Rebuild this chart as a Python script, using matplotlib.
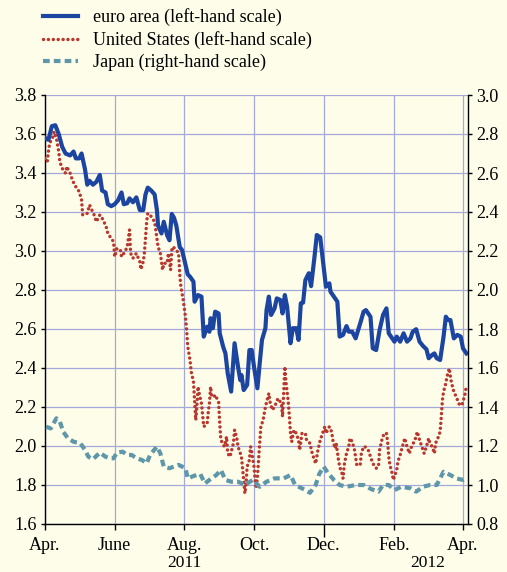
import matplotlib
matplotlib.use("Agg")
import matplotlib.pyplot as plt
import matplotlib.dates as mdates
import numpy as np
import pandas as pd

plt.rcParams['font.family'] = ['Liberation Serif', 'DejaVu Serif']

START = pd.Timestamp('2011-04-01')

# euro area (left-hand scale): days since 1 Apr 2011, value
ea_days = [0, 3, 6, 9, 12, 15, 18, 22, 25, 27, 30, 32, 35, 37, 39, 42, 45, 48, 50, 53,
           55, 58, 61, 64, 67, 69, 72, 74, 77, 80, 83, 86, 88, 90, 93, 96, 98, 99, 102, 104,
           107, 109, 111, 113, 115, 118, 120, 123, 125, 127, 130, 131, 134, 137, 139, 142, 144, 145, 147, 149,
           152, 153, 156, 158, 160, 163, 166, 169, 171, 172, 174, 177, 179, 181, 183, 186, 188, 190, 193, 194,
           196, 198, 201, 203, 206, 208, 210, 212, 215, 217, 220, 222, 224, 226, 228, 231, 233, 236, 238, 241,
           244, 246, 249, 250, 253, 256, 258, 261, 264, 266, 269, 272, 276, 279, 281, 285, 287, 290, 293, 296,
           299, 301, 304, 306, 308, 311, 314, 317, 320, 322, 325, 328, 331, 334, 336, 339, 341, 343, 346, 349,
           351, 353, 355, 358, 361, 364, 366, 369]
ea_vals = [3.58, 3.57, 3.64, 3.645, 3.60, 3.535, 3.50, 3.49, 3.51, 3.475, 3.475, 3.50, 3.42, 3.34, 3.36, 3.34, 3.355, 3.39, 3.31, 3.30,
           3.24, 3.23, 3.24, 3.26, 3.30, 3.24, 3.245, 3.27, 3.25, 3.275, 3.21, 3.21, 3.29, 3.325, 3.31, 3.29, 3.21, 3.13, 3.09, 3.15,
           3.08, 3.055, 3.19, 3.17, 3.13, 3.02, 3.005, 2.93, 2.88, 2.868, 2.843, 2.74, 2.774, 2.766, 2.561, 2.612, 2.586, 2.655, 2.604, 2.689,
           2.68, 2.578, 2.509, 2.475, 2.372, 2.279, 2.527, 2.407, 2.338, 2.364, 2.287, 2.313, 2.492, 2.492, 2.407, 2.296, 2.424, 2.544, 2.604, 2.697,
           2.766, 2.672, 2.706, 2.757, 2.749, 2.68, 2.774, 2.714, 2.527, 2.604, 2.604, 2.544, 2.732, 2.735, 2.851, 2.886, 2.82, 2.971, 3.082, 3.07,
           2.92, 2.817, 2.834, 2.791, 2.766, 2.74, 2.561, 2.57, 2.615, 2.586, 2.586, 2.552, 2.629, 2.689, 2.697, 2.663, 2.501, 2.492, 2.595, 2.672,
           2.706, 2.578, 2.552, 2.535, 2.561, 2.535, 2.578, 2.535, 2.552, 2.586, 2.599, 2.535, 2.513, 2.496, 2.45, 2.467, 2.475, 2.45, 2.441, 2.561,
           2.663, 2.646, 2.646, 2.552, 2.57, 2.561, 2.501, 2.475]

# United States (left-hand scale)
us_days = [0, 2, 3, 4, 7, 8, 10, 11, 12, 13, 15, 18, 19, 22, 24, 26, 30, 32, 33, 37,
           39, 41, 43, 45, 48, 51, 54, 55, 60, 61, 63, 66, 67, 70, 72, 73, 74, 75, 77, 80,
           83, 84, 86, 87, 88, 89, 90, 92, 96, 98, 99, 101, 102, 103, 104, 107, 108, 109, 110, 111,
           112, 115, 117, 118, 119, 121, 123, 124, 125, 127, 128, 130, 131, 132, 133, 134, 135, 137, 139, 142,
           143, 144, 145, 146, 148, 149, 152, 153, 154, 157, 159, 160, 162, 165, 166, 168, 169, 172, 173, 174,
           175, 176, 177, 179, 180, 181, 183, 184, 185, 186, 187, 188, 189, 191, 193, 196, 197, 199, 201, 204,
           207, 208, 209, 210, 211, 213, 214, 215, 216, 218, 220, 222, 223, 225, 228, 229, 232, 234, 237, 239,
           241, 243, 245, 246, 249, 251, 252, 254, 255, 257, 258, 260, 261, 262, 264, 266, 267, 269, 271, 273,
           276, 277, 279, 280, 283, 285, 287, 290, 292, 293, 295, 297, 299, 300, 301, 302, 304, 305, 306, 308,
           309, 311, 313, 315, 317, 319, 321, 324, 326, 328, 330, 332, 334, 336, 337, 339, 341, 342, 344, 346,
           347, 348, 349, 351, 352, 354, 355, 356, 358, 360, 363, 365, 366, 368, 369]
us_vals = [3.475, 3.458, 3.51, 3.552, 3.586, 3.612, 3.578, 3.544, 3.51, 3.458, 3.424, 3.399, 3.433, 3.399, 3.364, 3.338, 3.304, 3.262, 3.185, 3.193,
           3.236, 3.21, 3.185, 3.15, 3.185, 3.159, 3.116, 3.09, 3.048, 2.971, 3.013, 3.005, 2.971, 2.996, 3.022, 3.065, 3.108, 2.988, 2.963, 2.988,
           2.945, 2.906, 2.945, 2.988, 3.065, 3.15, 3.193, 3.185, 3.15, 3.065, 3.022, 2.988, 2.945, 2.903, 2.937, 2.937, 2.988, 2.945, 2.903, 3.005,
           3.022, 3.005, 2.988, 2.88, 2.817, 2.749, 2.663, 2.595, 2.509, 2.441, 2.381, 2.33, 2.236, 2.133, 2.201, 2.304, 2.27, 2.219, 2.099, 2.116,
           2.176, 2.219, 2.304, 2.253, 2.253, 2.262, 2.227, 2.116, 2.031, 1.997, 2.048, 1.962, 1.945, 2.014, 2.082, 2.04, 1.997, 1.945, 1.886, 1.826,
           1.757, 1.80, 1.894, 1.928, 1.997, 1.971, 1.894, 1.826, 1.783, 1.843, 1.928, 2.014, 2.099, 2.133, 2.201, 2.27, 2.227, 2.185, 2.201, 2.244,
           2.219, 2.15, 2.27, 2.407, 2.33, 2.227, 2.15, 2.065, 2.022, 2.082, 2.065, 2.031, 1.98, 2.065, 2.065, 2.031, 2.014, 1.962, 1.91, 1.98,
           2.03, 2.065, 2.099, 2.065, 2.099, 2.073, 2.031, 1.988, 2.014, 1.928, 1.894, 1.86, 1.834, 1.903, 1.962, 1.997, 2.04, 2.022, 1.98, 1.903,
           1.903, 1.962, 1.997, 1.997, 1.98, 1.945, 1.911, 1.886, 1.894, 1.98, 2.031, 2.065, 2.065, 2.022, 1.945, 1.903, 1.86, 1.826, 1.843, 1.877,
           1.92, 1.954, 1.997, 2.04, 1.997, 1.962, 1.997, 2.031, 2.073, 2.031, 1.997, 1.962, 1.997, 2.04, 2.014, 1.997, 1.962, 2.014, 2.04, 2.073,
           2.15, 2.236, 2.279, 2.322, 2.356, 2.398, 2.356, 2.322, 2.279, 2.253, 2.21, 2.21, 2.227, 2.27, 2.313]

# Japan (right-hand scale)
jp_days = [1, 5, 10, 13, 16, 20, 25, 31, 35, 38, 42, 48, 53, 57, 60, 63, 68, 72, 76, 80,
           85, 89, 92, 98, 101, 104, 109, 117, 123, 125, 130, 136, 140, 144, 150, 154, 158, 163, 169, 175,
           182, 188, 194, 201, 209, 215, 219, 225, 232, 237, 240, 244, 248, 253, 258, 264, 272, 279, 286, 292,
           296, 301, 306, 312, 320, 325, 331, 337, 343, 349, 355, 360, 366, 369]
jp_vals = [1.299, 1.29, 1.342, 1.325, 1.273, 1.24, 1.222, 1.214, 1.18, 1.145, 1.132, 1.166, 1.145, 1.137, 1.137, 1.166, 1.171, 1.154, 1.154, 1.137,
           1.128, 1.111, 1.154, 1.197, 1.162, 1.094, 1.086, 1.103, 1.086, 1.034, 1.046, 1.056, 1.008, 1.026, 1.051, 1.077, 1.026, 1.017, 1.017, 1.0,
           1.026, 0.991, 1.017, 1.034, 1.034, 1.051, 1.0, 0.983, 0.96, 1.0, 1.055, 1.094, 1.06, 1.026, 1.0, 0.991, 1.0, 1.0, 0.978, 0.966,
           1.0, 1.0, 0.974, 0.991, 0.983, 0.966, 0.991, 1.0, 1.0, 1.068, 1.051, 1.034, 1.026, 1.034]

labels = ['euro area (left-hand scale)', 'United States (left-hand scale)', 'Japan (right-hand scale)']
left_ticks = [1.6, 1.8, 2.0, 2.2, 2.4, 2.6, 2.8, 3.0, 3.2, 3.4, 3.6, 3.8]
right_ticks = [0.8, 1.0, 1.2, 1.4, 1.6, 1.8, 2.0, 2.2, 2.4, 2.6, 2.8, 3.0]
month_ticks = ['2011-04-01', '2011-06-01', '2011-08-01', '2011-10-01', '2011-12-01', '2012-02-01', '2012-04-01']
month_labels = ['Apr.', 'June', 'Aug.', 'Oct.', 'Dec.', 'Feb.', 'Apr.']
year_labels = ['2011', '2012']

BG = '#FEFDE9'
GRID = '#A3AADB'
BLUE = '#1B45A1'
RED = '#B8382F'
TEAL = '#5E96AA'
FS = 13

def to_dates(days):
    return START + pd.to_timedelta(np.array(days, dtype=float), unit='D')

fig = plt.figure(figsize=(5.07, 5.72), dpi=100, facecolor=BG)
ax = fig.add_axes([45/507, 1-524/572, (468-45)/507, (524-95)/572])
ax.set_facecolor(BG)
ax2 = ax.twinx()

l1, = ax.plot(to_dates(ea_days), ea_vals, color=BLUE, lw=3.0, solid_joinstyle='round', zorder=4)
l2, = ax.plot(to_dates(us_days), us_vals, color=RED, lw=2.5, linestyle=(0, (0.01, 1.4)),
              dash_capstyle='round', zorder=3)
l3, = ax2.plot(to_dates(jp_days), jp_vals, color=TEAL, lw=3.0, linestyle=(0, (1.6, 1.0)), zorder=3)

xmin = START
xmax = START + pd.Timedelta(days=370.4)
ax.set_xlim(xmin, xmax)
ax.set_ylim(1.6, 3.8)
ax2.set_ylim(0.8, 3.0)

tick_dates = pd.to_datetime(month_ticks)
ax.set_xticks(tick_dates)
ax.set_xticklabels(month_labels)
ax.set_yticks(left_ticks)
ax.set_yticklabels([f'{v:.1f}' for v in left_ticks])
ax2.set_yticks(right_ticks)
ax2.set_yticklabels([f'{v:.1f}' for v in right_ticks])

ax.grid(True, color=GRID, lw=0.9, zorder=0)
ax.set_axisbelow(True)

for a in (ax, ax2):
    a.spines['top'].set_visible(False)
    for s in a.spines.values():
        s.set_color('black')
        s.set_linewidth(1.0)
ax.spines['right'].set_visible(False)
ax2.spines['left'].set_visible(False)
ax2.spines['bottom'].set_visible(False)

ax.tick_params(axis='y', direction='out', length=3, width=1, labelsize=FS, pad=3, colors='black')
ax2.tick_params(axis='y', direction='out', length=3, width=1, labelsize=FS, pad=3, colors='black')
ax.tick_params(axis='x', direction='out', length=4, width=1, labelsize=FS, pad=5, colors='black')
# longer tick at December
ax.xaxis.get_major_ticks()[4].tick1line.set_markersize(9)

fig.text(184/507, 1-567/572, year_labels[0], ha='center', va='baseline', fontsize=12.5)
fig.text(428/507, 1-567/572, year_labels[1], ha='center', va='baseline', fontsize=12.5)

fig.legend([l1, l2, l3], labels, loc='upper left', bbox_to_anchor=(43/507, 1-8/572),
           frameon=False, fontsize=FS, handlelength=1.95, handletextpad=0.8,
           labelspacing=0.28, borderaxespad=0, borderpad=0)

fig.savefig('out.png', dpi=100, facecolor=BG)
